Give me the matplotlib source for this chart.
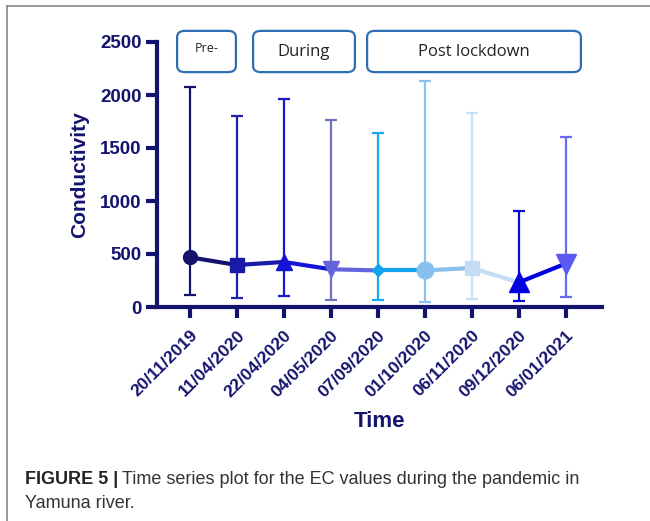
import numpy as np
import matplotlib
matplotlib.use('Agg')
import matplotlib.pyplot as plt
from matplotlib.patches import FancyBboxPatch
from matplotlib.lines import Line2D

dates = ['20/11/2019', '11/04/2020', '22/04/2020', '04/05/2020', '07/09/2020',
         '01/10/2020', '06/11/2020', '09/12/2020', '06/01/2021']
ec_mean = [469, 396, 425, 356, 345, 345, 368, 232, 410]
ec_upper = [2080, 1805, 1965, 1760, 1638, 2128, 1828, 905, 1602]
ec_lower = [110, 88, 102, 68, 70, 50, 72, 60, 97]
periods = ['Pre-', 'During', 'Post lockdown']

colors = ['#14146e', '#1a1aa8', '#1414d8', '#6464dc', '#12a2f0',
          '#88c0ee', '#c4dcf4', '#0000e0', '#5a5af0']
err_colors = ['#14146e', '#2020b0', '#1818d0', '#7272c4', '#18a8f0',
              '#8cc2ee', '#c8e0f4', '#0a0ad8', '#6a6af0']
markers = ['o', 's', '^', 'v', 'D', 'o', 's', '^', 'v']
msizes = [10, 10, 11, 11, 6, 12, 10, 14, 14]
navy = '#14146e'

plt.rcParams['font.family'] = ['Liberation Sans', 'DejaVu Sans']
fig = plt.figure(figsize=(6.5, 5.21), dpi=100)
W, H = 650, 521
ax = fig.add_axes([157 / W, 1 - 307 / H, (602 - 157) / W, (307 - 42) / H])

x = np.arange(len(dates))
for i in range(len(x) - 1):
    ax.plot(x[i:i + 2], ec_mean[i:i + 2], color=colors[i], lw=3, zorder=3,
            solid_capstyle='butt')
for i in range(len(x)):
    ax.errorbar(x[i], ec_mean[i],
                yerr=[[ec_mean[i] - ec_lower[i]], [ec_upper[i] - ec_mean[i]]],
                fmt='none', ecolor=err_colors[i], elinewidth=1.6, capsize=4.5,
                capthick=1.6, zorder=2)
    ax.plot(x[i], ec_mean[i], marker=markers[i], ms=msizes[i], color=colors[i],
            mec=colors[i], ls='none', zorder=4)

ax.set_xlim(-0.70, 8.77)
ax.set_ylim(0, 2500)
ax.set_yticks(range(0, 2501, 500))
ax.set_xticks(x)
ax.set_xticklabels(dates, rotation=45, ha='right', rotation_mode='anchor',
                   fontsize=12.5, fontweight='bold', color=navy)
for lab in ax.get_yticklabels():
    lab.set_fontsize(13.5)
    lab.set_fontweight('bold')
    lab.set_color(navy)
ax.tick_params(axis='both', direction='out', length=8, width=3, color=navy)
ax.tick_params(axis='x', pad=7)
ax.tick_params(axis='y', pad=3)
for s in ['top', 'right']:
    ax.spines[s].set_visible(False)
for s in ['left', 'bottom']:
    ax.spines[s].set_linewidth(3)
    ax.spines[s].set_color(navy)
ax.set_ylabel('Conductivity', fontsize=15, fontweight='bold', color=navy, labelpad=8)
ax.set_xlabel('Time', fontsize=16, fontweight='bold', color=navy, labelpad=8)

# period boxes
boxes = [(177, 236), (253, 355), (367, 581)]
box_fs = [9, 12, 12]
box_y = [48, 52, 52]
for (x0, x1), txt, fs, ty in zip(boxes, periods, box_fs, box_y):
    p = FancyBboxPatch(((x0 + 4) / W, 1 - (73 - 4) / H), (x1 - x0 - 8) / W, (73 - 30 - 8) / H,
                       boxstyle='round,pad=0.006,rounding_size=0.012',
                       transform=fig.transFigure, fc='white', ec='#2e6fb4', lw=1.6)
    fig.patches.append(p)
    fig.text((x0 + x1) / 2 / W, 1 - ty / H, txt, ha='center', va='center',
             fontsize=fs, color='#222222', family=['Open Sans', 'DejaVu Sans'])

# outer frame lines
fig.add_artist(Line2D([7 / W, 1], [1 - 6 / H, 1 - 6 / H], transform=fig.transFigure,
                      color='#888888', lw=1.2))
fig.add_artist(Line2D([7 / W, 7 / W], [0, 1 - 6 / H], transform=fig.transFigure,
                      color='#888888', lw=1.2))

# caption
t1 = fig.text(25 / W, 1 - 479 / H, 'FIGURE 5 |', fontsize=13, fontweight='bold',
              color='#222222', va='center')
fig.canvas.draw()
bb = t1.get_window_extent()
fig.text((bb.x1 + 4) / W, 1 - 479 / H,
         'Time series plot for the EC values during the pandemic in',
         fontsize=13, color='#333333', va='center')
fig.text(25 / W, 1 - 504 / H, 'Yamuna river.', fontsize=13, color='#333333', va='center')

fig.savefig('out.png', dpi=100)
